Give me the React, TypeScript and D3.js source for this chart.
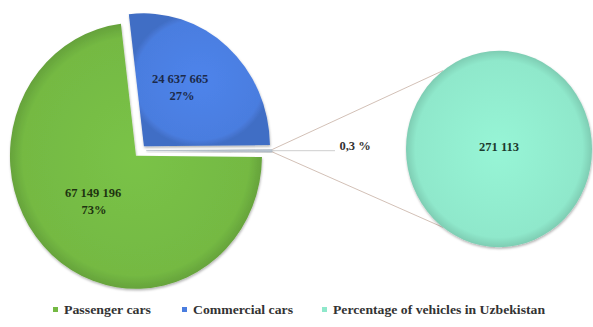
import React from "react";
import * as d3 from "d3";

const categories = ["Passenger cars", "Commercial cars", "Percentage of vehicles in Uzbekistan"];
const mainValues = [67149196, 24637665];
const otherValue = 271113;
const mainLabels = ["67 149 196", "24 637 665"];
const mainPercents = ["73%", "27%"];
const otherPercentLabel = "0,3 %";
const otherValueLabel = "271 113";
const colors = ["#74b943", "#4a7ddf", "#8fe8cb"];

const W = 593;
const H = 327;

export default function App() {
  const cx = 140.3;
  const cy = 150.7;
  const r = 126;
  const sy = 133 / 126;
  const total = mainValues[0] + mainValues[1] + otherValue;
  const angle = d3.scaleLinear().domain([0, total]).range([0, 2 * Math.PI]);
  const blueA = angle(mainValues[1]);
  const otherA = angle(otherValue);
  const start = Math.PI / 2 - (blueA + otherA / 2);

  const pieData = [
    { key: 1, value: mainValues[1], explode: 5.5 },
    { key: 2, value: otherValue, explode: 6 },
    { key: 0, value: mainValues[0], explode: 6.5 },
  ];
  const pie = d3
    .pie<any>()
    .value((d) => d.value)
    .sort(null)
    .startAngle(start)
    .endAngle(start + 2 * Math.PI);
  const arcs = pie(pieData);
  const arcGen = d3.arc<any>().innerRadius(0).outerRadius(r);

  const scx = 499;
  const scy = 149;
  const sr = 93;
  const sArc = d3.arc<any>().innerRadius(0).outerRadius(sr);
  const sPie = d3.pie<number>().sort(null)([otherValue]);

  const otherArc = arcs[1];
  const oOff = otherArc.data.explode;
  const oMid = (otherArc.startAngle + otherArc.endAngle) / 2;
  const ox = cx + Math.sin(oMid) * oOff;
  const oy = cy - Math.cos(oMid) * oOff * sy;
  const pTop = [ox + Math.sin(otherArc.startAngle) * r, oy - Math.cos(otherArc.startAngle) * r * sy];
  const pBot = [ox + Math.sin(otherArc.endAngle) * r, oy - Math.cos(otherArc.endAngle) * r * sy];
  const tA = (127 * Math.PI) / 180;
  const sTop = [scx + Math.cos(tA) * sr, scy - Math.sin(tA) * sr * sy];
  const sBot = [scx + Math.cos(tA) * sr, scy + Math.sin(tA) * sr * sy];

  const font = "'Liberation Serif', 'Times New Roman', serif";

  const legendX = [53, 182, 322];
  const legendW = [87, 100, 212];

  return (
    <svg width={W} height={H} style={{ position: "absolute", left: 0, top: 0 }} fontFamily={font}>
      <defs>
        {colors.map((c, i) => (
          <radialGradient key={i} id={"g" + i} cx="50%" cy="50%" r="50%">
            <stop offset="0%" stopColor={d3.color(c)!.brighter(0.15).formatHex()} />
            <stop offset="90%" stopColor={c} />
            <stop offset="100%" stopColor={d3.color(c)!.darker(0.35).formatHex()} />
          </radialGradient>
        ))}
        <filter id="sh" x="-10%" y="-10%" width="120%" height="120%">
          <feDropShadow dx="0.5" dy="1.5" stdDeviation="1.2" floodColor="#000" floodOpacity="0.3" />
        </filter>
      </defs>
      <rect width={W} height={H} fill="#fff" />
      <g transform={`translate(${cx},${cy}) scale(1,${sy})`}>
        {arcs.map((a) => {
          const mid = (a.startAngle + a.endAngle) / 2;
          const dx = Math.sin(mid) * a.data.explode;
          const dy = -Math.cos(mid) * a.data.explode;
          return (
            <g key={a.data.key} transform={`translate(${dx},${dy})`}>
              <path
                d={arcGen(a) as string}
                fill={a.data.key === 2 ? "#b9c3cf" : `url(#g${a.data.key})`}
                stroke={a.data.key === 2 ? "#9aa6b4" : "none"}
                strokeWidth={0.4}
                filter="url(#sh)"
              />
            </g>
          );
        })}
      </g>
      <line x1={pTop[0]} y1={pTop[1]} x2={sTop[0]} y2={sTop[1]} stroke="#cdb9ae" strokeWidth={0.9} />
      <line x1={pBot[0]} y1={pBot[1]} x2={sBot[0]} y2={sBot[1]} stroke="#cdb9ae" strokeWidth={0.9} />
      <line x1={ox + r} y1={oy} x2={335} y2={oy} stroke="#c8c8c8" strokeWidth={0.9} />
      <g transform={`translate(${scx},${scy}) scale(1,${sy})`}>
        {sPie.map((a, i) => (
          <path key={i} d={sArc(a) as string} fill="url(#g2)" filter="url(#sh)" />
        ))}
      </g>
      <g fontWeight="bold" fontSize={12.5} textAnchor="middle">
        <text x={180} y={83} fill="#1c2a4a">{mainLabels[1]}</text>
        <text x={182} y={100} fill="#1c2a4a">{mainPercents[1]}</text>
        <text x={93} y={197} fill="#1e3310">{mainLabels[0]}</text>
        <text x={94} y={214} fill="#1e3310">{mainPercents[0]}</text>
        <text x={355} y={150} fill="#333">{otherPercentLabel}</text>
        <text x={499} y={151} fill="#1c3a2c">{otherValueLabel}</text>
      </g>
      <g fontWeight="bold" fontSize={13.5} fill="#333">
        {categories.map((c, i) => (
          <g key={c}>
            <rect x={legendX[i]} y={307} width={5} height={5} fill={colors[i]} />
            <text x={legendX[i] + 11} y={314} textLength={legendW[i]} lengthAdjust="spacingAndGlyphs">
              {c}
            </text>
          </g>
        ))}
      </g>
    </svg>
  );
}
